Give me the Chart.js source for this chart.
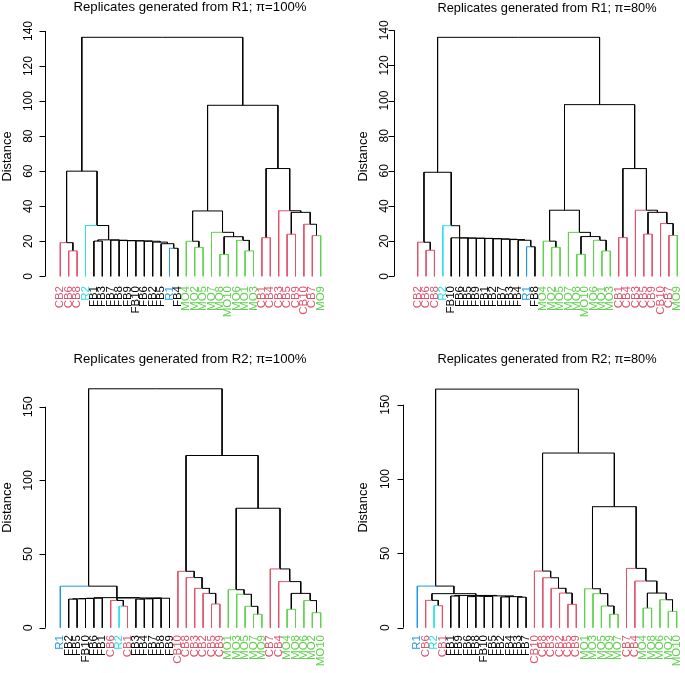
<!DOCTYPE html>
<html>
<head>
<meta charset="utf-8">
<script src="https://cdn.jsdelivr.net/npm/chart.js@4.4.1/dist/chart.umd.min.js"></script>
<style>
  body { margin: 0; background: #fff; width: 685px; height: 673px; position: relative; overflow: hidden; }
  canvas { position: absolute; }
</style>
</head>
<body>
<canvas id="c1" width="342" height="336" style="left:0;top:0"></canvas>
<canvas id="c2" width="343" height="336" style="left:342px;top:0"></canvas>
<canvas id="c3" width="342" height="337" style="left:0;top:336px"></canvas>
<canvas id="c4" width="343" height="337" style="left:342px;top:336px"></canvas>
<script>
// dendrogram data: leaf order, then merges in hclust style
// (negative = leaf number in the order below, positive = earlier merge row)

// R1, pi = 100%
var leaves1 = ['CB2','CB6','CB8','R2','FB1','FB3','FB7','FB8','FB9','FB10','FB6','FB2','FB5','R1','FB4',
  'MO4','MO2','MO5','MO7','MO8','MO10','MO6','MO1','MO3','CB1','CB4','CB3','CB5','CB9','CB10','CB7','MO9'];
var mergeA1 = [-2,-1,-14,-13,-12,-11,-10,-9,-8,-7,-5,11,-4,2, -17,-16,-20,-23,-22,17,-19,16,-25,-28,-31,-30,24,-27,23,22,14];
var mergeB1 = [-3, 1,-15,  3,  4,  5,  6, 7, 8, 9,-6,10,12,13,-18,15,-21,-24,18,19,20,21,-26,-29,-32,25,26,27,28,29,30];
var height1 = [14.5,19.2,16.0,18.6,19.5,20.0,20.2,20.3,20.4,20.6,20.1,20.8,29.0,60.0,
  16.5,20.0,12.5,14.5,20.5,22.6,25.1,37.3,22.0,24.0,23.2,29.7,36.5,37.4,61.5,97.6,136.4];

// R1, pi = 80%
var leaves2 = ['CB2','CB6','CB8','R2','FB10','FB6','FB5','FB9','FB1','FB2','FB7','FB3','FB4','R1','FB8',
  'MO4','MO2','MO5','MO7','MO8','MO10','MO6','MO1','MO3','CB1','CB4','CB3','CB5','CB9','CB10','CB7','MO9'];
var mergeA2 = [-2,-1,-14,-13,-12,-11,-10,-9,-8,-7,-6,-5,-4,2, -17,-16,-20,-23,-22,17,-19,16,-25,-28,-31,-30,24,-27,23,22,14];
var mergeB2 = [-3, 1,-15,  3,  4,  5,  6, 7, 8, 9,10,11,12,13,-18,15,-21,-24,18,19,20,21,-26,-29,-32,25,26,27,28,29,30];
var height2 = [14.8,19.4,16.8,20.5,20.9,21.1,21.3,21.5,21.6,21.7,21.8,21.9,28.8,59.2,
  16.5,20.0,12.5,14.4,20.5,22.6,25.0,37.6,22.0,24.0,23.2,30.0,36.4,37.6,61.3,97.7,136.0];

// R2, pi = 100%
var leaves3 = ['R1','FB2','FB5','FB10','FB6','FB1','CB6','R2','CB1','FB3','FB4','FB7','FB8','FB9',
  'CB10','CB8','CB3','CB2','CB5','CB9','MO1','MO3','MO5','MO7','MO9','CB7','CB4','MO4','MO8','MO6','MO2','MO10'];
var mergeA3 = [-2,1,2,3,-8,-7,-10,7,8,9,6,4,-1, -19,-18,-17,-16,-15, -24,-23,-22,-21, -28,-31,-30,23,-27,-26,22,18,13];
var mergeB3 = [-3,-4,-5,-6,-9,5,-11,-12,-13,-14,10,11,12, -20,14,15,16,17, -25,19,20,21, -29,-32,24,25,26,27,28,29,30];
var height3 = [19.4,19.6,19.8,20.0,14.6,18.5,19.4,19.6,19.8,20.0,20.2,20.4,28.2,
  16.1,23.3,26.7,34.0,38.3, 9.1,14.5,22.7,25.8, 12.5,10.2,18.4,23.3,31.3,39.9,81.1,116.9,162.2];

// R2, pi = 80%
var leaves4 = ['R1','CB6','R2','CB1','FB1','FB9','FB6','FB8','FB10','FB5','FB2','FB4','FB3','FB7',
  'CB10','CB8','CB3','CB2','CB5','CB9','MO1','MO3','MO5','MO9','MO7','CB7','CB4','MO4','MO8','MO6','MO2','MO10'];
var mergeA4 = [-3,-2,-5,-7,-9,4,-11,-13,7,6,3,2,-1, -19,-18,-17,-16,-15, -24,-23,-22,-21, -28,-31,-30,23,-27,-26,22,18,13];
var mergeB4 = [-4,1,-6,-8,-10,5,-12,-14,8,9,10,11,12, -20,14,15,16,17, -25,19,20,21, -29,-32,24,25,26,27,28,29,30];
var height4 = [14.8,18.4,21.3,20.9,21.0,21.2,20.7,20.5,20.9,21.4,21.7,22.9,28.0,
  15.7,23.3,26.5,33.6,38.1, 9.0,14.6,22.9,26.2, 13.2,11.0,18.8,23.3,31.4,39.9,81.4,117.5,160.5];

var distTicks1 = [0,20,40,60,80,100,120,140];
var distTicks2 = [0,20,40,60,80,100,120,140];
var distTicks3 = [0,50,100,150];
var distTicks4 = [0,50,100,150];

var titles = ['Replicates generated from R1; \u03c0=100%', 'Replicates generated from R1; \u03c0=80%',
              'Replicates generated from R2; \u03c0=100%', 'Replicates generated from R2; \u03c0=80%'];

var groupColors = { CB: '#DF536B', MO: '#61D04F', FB: '#000000', R1: '#2297E6', R2: '#28E2E5' };
var FONT = '"Liberation Sans", Arial, Helvetica, sans-serif';

function leafColor(name){
    return groupColors[name.charAt(0) == 'R' ? name : name.slice(0,2)];
}

// turn the merge table into rectangle edges (parent bar + drop to child)
// only the edges ending in a leaf get the leaf colour, inner edges stay black
function dendroEdges(leaves, A, B, H){
    var nodes = [];
    var edges = [];
    function info(ref){
        if (ref < 0){
            return { x: -ref, h: 0, color: leafColor(leaves[-ref-1]) };
        }
        return nodes[ref-1];
    }
    for (var i = 0; i < A.length; i++){
        var a = info(A[i]), b = info(B[i]);
        var x = (a.x + b.x) / 2, h = H[i];
        [a, b].forEach(function(c){
            edges.push({ color: c.color, data: [{x: x, y: h}, {x: c.x, y: h}, {x: c.x, y: c.h}] });
        });
        nodes.push({ x: x, h: h, color: '#000000' });
    }
    return edges;
}

// placement of each panel, page pixels
var panels = [
    { id: 'c1', leaves: leaves1, A: mergeA1, B: mergeB1, H: height1, ticks: distTicks1,
      box: [0, 0, 342, 336], left: 60.3, right: 320.7, top: 31, bottom: 276.3, yMax: 140,
      axisX: 45, tickLabX: 29, tickFont: 12, yLabX: 7, yLabY: 156.5, yLabFont: 12.9,
      titleX: 190, titleY: 11, titleFont: 13.2, labTop: 286, labFont: 11.5 },
    { id: 'c2', leaves: leaves2, A: mergeA2, B: mergeB2, H: height2, ticks: distTicks2,
      box: [342, 0, 343, 336], left: 417.7, right: 677.3, top: 30.3, bottom: 276.3, yMax: 140,
      axisX: 394.3, tickLabX: 385, tickFont: 12, yLabX: 363.3, yLabY: 156.5, yLabFont: 12.9,
      titleX: 547, titleY: 11.5, titleFont: 12.8, labTop: 286, labFont: 11.5 },
    { id: 'c3', leaves: leaves3, A: mergeA3, B: mergeB3, H: height3, ticks: distTicks3,
      box: [0, 336, 342, 337], left: 60.3, right: 320.7, top: 377.3, bottom: 627.7, yMax: 170,
      axisX: 45, tickLabX: 28.5, tickFont: 12.5, yLabX: 7, yLabY: 507.5, yLabFont: 13,
      titleX: 190, titleY: 363, titleFont: 13.2, labTop: 635, labFont: 11.5 },
    { id: 'c4', leaves: leaves4, A: mergeA4, B: mergeB4, H: height4, ticks: distTicks4,
      box: [342, 336, 343, 337], left: 417.3, right: 676.7, top: 375, bottom: 627.7, yMax: 170,
      axisX: 402.7, tickLabX: 385.5, tickFont: 12, yLabX: 363.3, yLabY: 507.5, yLabFont: 12.9,
      titleX: 547, titleY: 363, titleFont: 12.8, labTop: 635, labFont: 11.5 }
];

function rStylePlugin(p){
    var ox = p.box[0], oy = p.box[1];
    return {
        id: 'rStyle',
        afterDraw: function(chart){
            var ctx = chart.ctx;
            var xs = chart.scales.x, ys = chart.scales.y;
            ctx.save();
            // title
            ctx.fillStyle = '#000';
            ctx.font = p.titleFont + 'px ' + FONT;
            ctx.textAlign = 'center';
            ctx.textBaseline = 'alphabetic';
            ctx.fillText(titles[panels.indexOf(p)], p.titleX - ox, p.titleY - oy);
            // y axis, R style
            var ax = Math.round(p.axisX - ox) + 0.5;
            var y0 = ys.getPixelForValue(p.ticks[0]);
            var y1 = ys.getPixelForValue(p.ticks[p.ticks.length-1]);
            ctx.strokeStyle = '#000';
            ctx.lineWidth = 1;
            ctx.beginPath();
            ctx.moveTo(ax, y0); ctx.lineTo(ax, y1);
            p.ticks.forEach(function(t){
                var ty = Math.round(ys.getPixelForValue(t)) + 0.5;
                ctx.moveTo(ax, ty); ctx.lineTo(ax - 6, ty);
            });
            ctx.stroke();
            ctx.font = p.tickFont + 'px ' + FONT;
            ctx.textBaseline = 'middle';
            ctx.textAlign = 'center';
            p.ticks.forEach(function(t){
                ctx.save();
                ctx.translate(p.tickLabX - ox, ys.getPixelForValue(t));
                ctx.rotate(-Math.PI/2);
                ctx.fillText(String(t), 0, 0);
                ctx.restore();
            });
            ctx.save();
            ctx.font = p.yLabFont + 'px ' + FONT;
            ctx.translate(p.yLabX - ox, p.yLabY - oy);
            ctx.rotate(-Math.PI/2);
            ctx.fillText('Distance', 0, 0);
            ctx.restore();
            // leaf labels
            ctx.font = p.labFont + 'px ' + FONT;
            ctx.textAlign = 'right';
            p.leaves.forEach(function(name, i){
                ctx.save();
                ctx.fillStyle = leafColor(name);
                ctx.translate(xs.getPixelForValue(i + 1), p.labTop - oy);
                ctx.rotate(-Math.PI/2);
                ctx.fillText(name, 0, 0);
                ctx.restore();
            });
            ctx.restore();
        }
    };
}

panels.forEach(function(p){
    var ox = p.box[0], oy = p.box[1];
    var datasets = dendroEdges(p.leaves, p.A, p.B, p.H).map(function(e){
        return {
            data: e.data,
            borderColor: e.color,
            borderWidth: 1,
            showLine: true,
            pointRadius: 0,
            fill: false,
            tension: 0,
            clip: false
        };
    });
    new Chart(document.getElementById(p.id), {
        type: 'scatter',
        data: { datasets: datasets },
        options: {
            responsive: false,
            animation: false,
            events: [],
            layout: { padding: {
                left: p.left - ox,
                right: p.box[2] - (p.right - ox),
                top: p.top - oy,
                bottom: p.box[3] - (p.bottom - oy)
            } },
            plugins: { legend: { display: false }, tooltip: { enabled: false }, title: { display: false } },
            scales: {
                x: { type: 'linear', min: 1, max: p.leaves.length, display: false },
                y: { type: 'linear', min: 0, max: p.yMax, display: false }
            }
        },
        plugins: [rStylePlugin(p)]
    });
});
</script>
</body>
</html>
